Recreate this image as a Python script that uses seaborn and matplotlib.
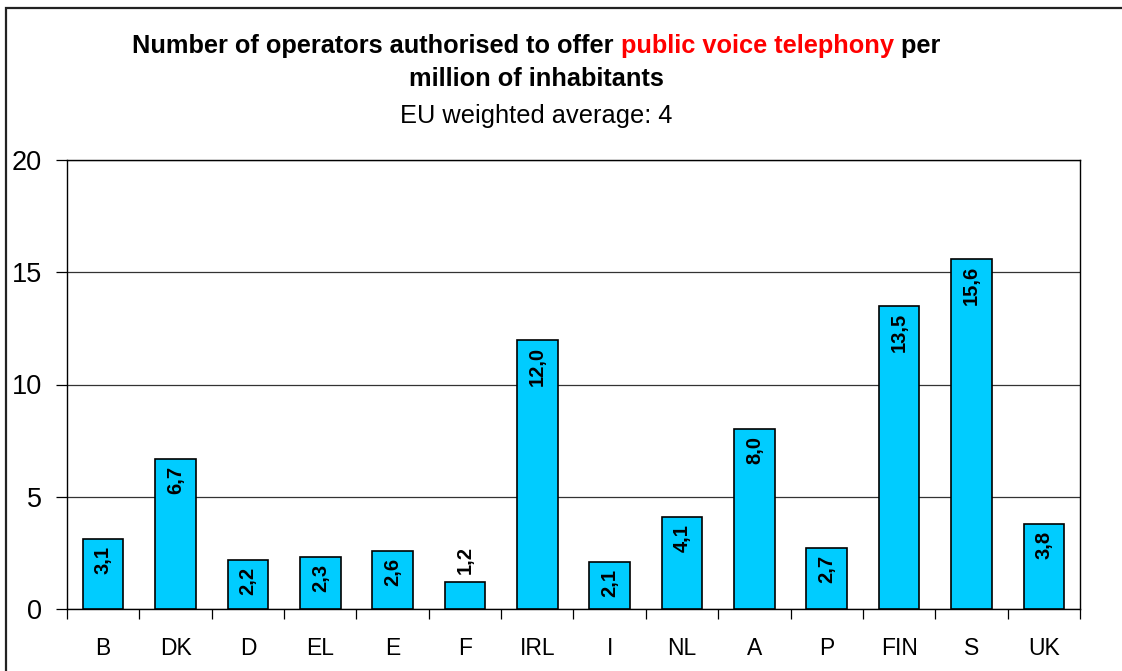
import matplotlib
matplotlib.use("Agg")
import matplotlib.pyplot as plt
import seaborn as sns
import pandas as pd
from matplotlib.patches import Rectangle

countries = ["B", "DK", "D", "EL", "E", "F", "IRL", "I", "NL", "A", "P", "FIN", "S", "UK"]
values = [3.1, 6.7, 2.2, 2.3, 2.6, 1.2, 12.0, 2.1, 4.1, 8.0, 2.7, 13.5, 15.6, 3.8]
y_ticks = [0, 5, 10, 15, 20]
title_parts = ["Number of operators authorised to offer ", "public voice telephony", " per"]
title_line2 = "million of inhabitants"
subtitle = "EU weighted average: 4"

sns.set_theme(style="white")
plt.rcParams["font.family"] = ["Liberation Sans", "DejaVu Sans"]
plt.rcParams["text.color"] = "black"
plt.rcParams["xtick.color"] = "black"
plt.rcParams["ytick.color"] = "black"
plt.rcParams["axes.labelcolor"] = "black"

df = pd.DataFrame({"country": countries, "value": values})

fig = plt.figure(figsize=(11.22, 6.71), dpi=100)
W, H = 1122, 671
ax = fig.add_axes([67 / W, 1 - 609 / H, (1080 - 67) / W, (609 - 160) / H])

sns.barplot(data=df, x="country", y="value", color="#00CCFF", edgecolor="black",
            linewidth=1.2, width=0.56, saturation=1, ax=ax, zorder=3)

ax.set_ylim(0, 20)
ax.set_xlim(-0.5, len(countries) - 0.5)
ax.set_yticks(y_ticks)
ax.set_yticklabels([str(t) for t in y_ticks], fontsize=19.5)
ax.set_xlabel("")
ax.set_ylabel("")
ax.yaxis.grid(True, color="#333333", linewidth=0.9, zorder=0)
ax.set_axisbelow(True)
ax.tick_params(axis="y", length=8, width=0.9, color="black", left=True, pad=10)
# x ticks at category boundaries
ax.set_xticks([i - 0.5 for i in range(len(countries) + 1)], minor=False)
ax.set_xticklabels([""] * (len(countries) + 1))
ax.tick_params(axis="x", which="major", length=7, width=0.9, color="black", bottom=True)
ax.set_xticks(range(len(countries)), minor=True)
ax.set_xticklabels(countries, minor=True, fontsize=16.5)
ax.tick_params(axis="x", which="minor", length=0, pad=20)

for side in ["left", "right", "bottom", "top"]:
    ax.spines[side].set_visible(True)
    ax.spines[side].set_color("black")
    ax.spines[side].set_linewidth(1.0)

for patch, v in zip(ax.patches, values):
    cx = patch.get_x() + patch.get_width() / 2
    lab = f"{v:.1f}".replace(".", ",")
    if v < 2:
        ax.annotate(lab, (cx, v), xytext=(0, 6), textcoords="offset points",
                    rotation=90, ha="center", va="bottom", fontsize=14.5,
                    fontweight="bold", color="black", zorder=5)
    else:
        ax.annotate(lab, (cx, v), xytext=(0, -5), textcoords="offset points",
                    rotation=90, ha="center", va="top", fontsize=14.5,
                    fontweight="bold", color="black", zorder=5)

# outer frame
fig.patches.append(Rectangle((6 / W, -0.1), 1.2, 1 - 8 / H + 0.1, transform=fig.transFigure,
                             fill=False, edgecolor="#222222", linewidth=1.6, zorder=10))

# title, line 1 with coloured part
renderer = fig.canvas.get_renderer()
colors = ["black", "#FF0000", "black"]
texts = []
for part, c in zip(title_parts, colors):
    t = fig.text(0, 1 - 46 / H, part, color=c, fontsize=18.3, fontweight="bold",
                 ha="left", va="center")
    texts.append(t)
widths = [t.get_window_extent(renderer).width for t in texts]
total = sum(widths)
x0 = 536 - total / 2
for t, w in zip(texts, widths):
    t.set_x(x0 / W)
    x0 += w

fig.text(536 / W, 1 - 79 / H, title_line2, fontsize=18.3, fontweight="bold",
         ha="center", va="center")
fig.text(536 / W, 1 - 116 / H, subtitle, fontsize=18.3,
         ha="center", va="center")

fig.savefig("out.png", dpi=100, facecolor="white")
